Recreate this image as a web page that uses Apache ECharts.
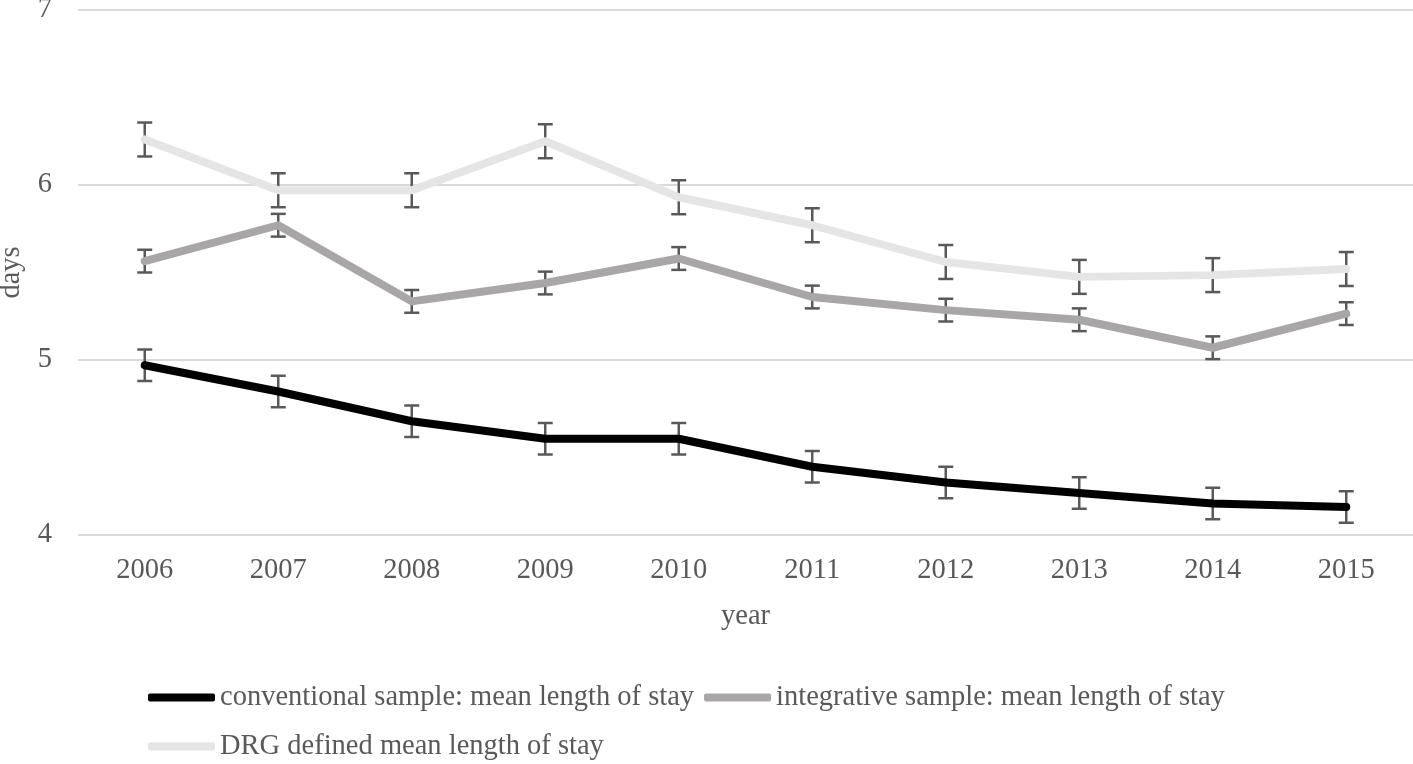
<!DOCTYPE html>
<html>
<head>
<meta charset="utf-8">
<script src="https://cdn.jsdelivr.net/npm/echarts@6/dist/echarts.min.js"></script>
<style>
html,body{margin:0;padding:0;background:#fff;}
#chart{width:1413px;height:764px;}
</style>
</head>
<body>
<div id="chart"></div>
<script>
const years = ['2006','2007','2008','2009','2010','2011','2012','2013','2014','2015'];
const conventional = [4.97, 4.82, 4.65, 4.55, 4.55, 4.39, 4.30, 4.24, 4.18, 4.16];
const integrative  = [5.565, 5.77, 5.335, 5.44, 5.58, 5.36, 5.285, 5.23, 5.07, 5.265];
const drg          = [6.26, 5.97, 5.97, 6.25, 5.93, 5.77, 5.56, 5.475, 5.485, 5.52];
const conventionalErr = [0.09, 0.09, 0.09, 0.09, 0.09, 0.09, 0.09, 0.09, 0.09, 0.09];
const integrativeErr  = [0.065, 0.065, 0.065, 0.065, 0.065, 0.065, 0.065, 0.065, 0.065, 0.065];
const drgErr          = [0.097, 0.097, 0.097, 0.097, 0.097, 0.097, 0.097, 0.097, 0.097, 0.097];
const yTicks = [4, 5, 6, 7];

const names = [
  'conventional sample: mean length of stay',
  'integrative sample: mean length of stay',
  'DRG defined mean length of stay'
];
const colors = ['#000000', '#a9a6a8', '#e6e5e5'];
const FONT = '"Liberation Serif", "Times New Roman", serif';
const TXT = '#595959';
const FS = 28.5;

function errData(vals, errs) {
  return vals.map((v, i) => [i, v - errs[i], v + errs[i]]);
}
function errSeries(vals, errs) {
  return {
    type: 'custom',
    silent: true,
    z: 1,
    data: errData(vals, errs),
    renderItem: function (params, api) {
      const x = api.value(0);
      const lo = api.coord([x, api.value(1)]);
      const hi = api.coord([x, api.value(2)]);
      const hw = 7.5;
      const st = { stroke: '#595959', lineWidth: 2.5 };
      return {
        type: 'group',
        children: [
          { type: 'line', shape: { x1: lo[0], y1: lo[1], x2: hi[0], y2: hi[1] }, style: st },
          { type: 'line', shape: { x1: lo[0] - hw, y1: lo[1], x2: lo[0] + hw, y2: lo[1] }, style: st },
          { type: 'line', shape: { x1: hi[0] - hw, y1: hi[1], x2: hi[0] + hw, y2: hi[1] }, style: st }
        ]
      };
    }
  };
}
function lineSeries(name, vals, color) {
  return {
    name: name,
    type: 'line',
    z: 3,
    data: vals,
    symbol: 'none',
    showSymbol: false,
    itemStyle: { color: color },
    lineStyle: { color: color, width: 8, cap: 'round', join: 'round' }
  };
}

const chart = echarts.init(document.getElementById('chart'), null, { renderer: 'canvas' });
const legendBase = {
  left: 148,
  padding: 0,
  orient: 'horizontal',
  icon: 'roundRect',
  itemWidth: 67,
  itemHeight: 8,
  itemGap: 10,
  textStyle: { fontSize: FS, color: TXT, fontFamily: FONT },
  selectedMode: false
};
chart.setOption({
  animation: false,
  backgroundColor: '#ffffff',
  textStyle: { fontFamily: FONT },
  grid: { left: 78, right: 0, top: 10, bottom: 229, containLabel: false, outerBoundsMode: 'none' },
  legend: [
    Object.assign({}, legendBase, { top: 683, data: [names[0], names[1]] }),
    Object.assign({}, legendBase, { top: 732, data: [names[2]] })
  ],
  xAxis: {
    type: 'category',
    data: years,
    boundaryGap: true,
    axisLine: { show: false },
    axisTick: { show: false },
    axisLabel: { fontSize: FS, color: TXT, fontFamily: FONT, margin: 21 },
    name: 'year',
    nameLocation: 'middle',
    nameGap: 67,
    nameTextStyle: { fontSize: FS, color: TXT, fontFamily: FONT }
  },
  yAxis: {
    type: 'value',
    min: yTicks[0],
    max: yTicks[yTicks.length - 1],
    interval: 1,
    axisLine: { show: false },
    axisTick: { show: false },
    axisLabel: { fontSize: FS, color: TXT, fontFamily: FONT, margin: 26 },
    splitLine: { show: true, lineStyle: { color: '#d9d9d9', width: 2 } },
    name: 'days',
    nameLocation: 'middle',
    nameRotate: 90,
    nameGap: 52,
    nameTextStyle: { fontSize: FS, color: TXT, fontFamily: FONT }
  },
  series: [
    errSeries(conventional, conventionalErr),
    errSeries(integrative, integrativeErr),
    errSeries(drg, drgErr),
    lineSeries(names[0], conventional, colors[0]),
    lineSeries(names[1], integrative, colors[1]),
    lineSeries(names[2], drg, colors[2])
  ]
});
</script>
</body>
</html>
